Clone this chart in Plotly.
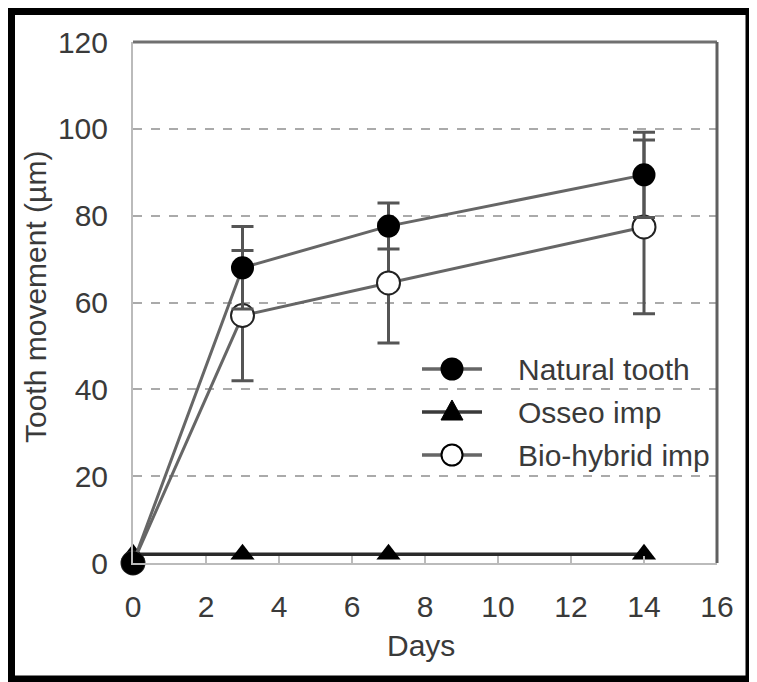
import plotly.graph_objects as go

# ---- data ----
days = [0, 3, 7, 14]
natural = [0, 68, 77.6, 89.4]
natural_err = [0, 9.5, 5.3, 9.8]
osseo = [2, 2, 2, 2]
bio = [0, 57, 64.5, 77.4]
bio_err = [0, 15, 13.8, 20]
x_ticks = [0, 2, 4, 6, 8, 10, 12, 14, 16]
y_ticks = [0, 20, 40, 60, 80, 100, 120]
series_names = ["Natural tooth", "Osseo imp", "Bio-hybrid imp"]

# page has an 8px body margin, so work in window pixels and shift
OFF = 8
W, H = 757 - OFF, 682 - OFF
L, R, T, B = 133 - OFF, 717 - OFF, 42 - OFF, 563 - OFF   # plot area (figure px)
pw, ph = R - L, B - T

def px(wx):
    return (wx - OFF - L) / pw

def py(wy):
    return (B - (wy - OFF)) / ph

FONT = "Liberation Sans, Arial, sans-serif"
TXT = "#3a3a3a"
LINE = "#666666"
ERR = "#555555"

fig = go.Figure()

fig.add_trace(go.Scatter(
    x=days, y=osseo, name=series_names[1], mode="lines+markers",
    line=dict(color="#2a2a2a", width=3.5),
    marker=dict(symbol="triangle-up", size=21, color="black"),
    cliponaxis=False,
))
fig.add_trace(go.Scatter(
    x=days, y=bio, name=series_names[2], mode="lines+markers",
    line=dict(color=LINE, width=3),
    marker=dict(symbol="circle", size=23, color="white", line=dict(color="#222222", width=2)),
    error_y=dict(type="data", array=bio_err, color=ERR, thickness=3, width=11),
    cliponaxis=False,
))
fig.add_trace(go.Scatter(
    x=days, y=natural, name=series_names[0], mode="lines+markers",
    line=dict(color=LINE, width=3),
    marker=dict(symbol="circle", size=23, color="black"),
    error_y=dict(type="data", array=natural_err, color=ERR, thickness=3, width=11),
    cliponaxis=False,
))

# ---- custom legend (keys drawn as decorations, labels as text) ----
leg_rows = [369, 412, 455]        # window px
leg_x0, leg_x1, leg_mx, leg_tx = 422, 482, 452, 516
r_px = 10.5
shapes = []
annotations = []
for i, (name, wy) in enumerate(zip(series_names, leg_rows)):
    shapes.append(dict(type="line", xref="paper", yref="paper",
                       x0=px(leg_x0), x1=px(leg_x1), y0=py(wy), y1=py(wy),
                       line=dict(color="#3a3a3a" if i == 1 else LINE, width=3.5)))
    if i == 1:
        path = "M {:.5f} {:.5f} L {:.5f} {:.5f} L {:.5f} {:.5f} Z".format(
            px(leg_mx - 11), py(wy + 8), px(leg_mx + 11), py(wy + 8), px(leg_mx), py(wy - 12))
        shapes.append(dict(type="path", xref="paper", yref="paper", path=path,
                           fillcolor="black", line=dict(color="black", width=1)))
    else:
        shapes.append(dict(type="circle", xref="paper", yref="paper",
                           x0=px(leg_mx - r_px), x1=px(leg_mx + r_px),
                           y0=py(wy + r_px), y1=py(wy - r_px),
                           fillcolor="black" if i == 0 else "white",
                           line=dict(color="black", width=2)))
    annotations.append(dict(text=name, xref="paper", yref="paper",
                            x=px(leg_tx), y=py(wy), xanchor="left", yanchor="middle",
                            showarrow=False, font=dict(size=30, color=TXT)))

# frame lines (top, right) and outer black border
shapes += [
    dict(type="line", xref="paper", yref="paper", x0=0, x1=1, y0=1, y1=1,
         line=dict(color="#707070", width=3)),
    dict(type="line", xref="paper", yref="paper", x0=1, x1=1, y0=0, y1=1,
         line=dict(color="#606060", width=3)),
    dict(type="rect", xref="paper", yref="paper",
         x0=px(11.5), x1=px(749), y0=py(679), y1=py(11.5),
         line=dict(color="black", width=7), layer="above"),
]

annotations += [
    dict(text="Days", xref="paper", yref="paper", x=px(421), y=py(645),
         showarrow=False, font=dict(size=30, color=TXT), xanchor="center", yanchor="middle"),
    dict(text="Tooth movement (µm)", xref="paper", yref="paper", x=px(35), y=py(297),
         showarrow=False, textangle=-90, font=dict(size=30, color=TXT),
         xanchor="center", yanchor="middle"),
]

fig.update_layout(
    width=W, height=H,
    margin=dict(l=L, r=W - R, t=T, b=H - B, pad=0),
    paper_bgcolor="white", plot_bgcolor="white",
    font=dict(family=FONT, size=30, color=TXT),
    showlegend=False,
    xaxis=dict(
        range=[0, 16], tickvals=x_ticks, ticktext=[str(v) for v in x_ticks],
        showgrid=False, zeroline=False,
        showline=True, linecolor="#bbbbbb", linewidth=2,
        ticks="inside", ticklen=7, tickcolor="#bbbbbb", tickwidth=1.5,
        ticklabelstandoff=16, tickfont=dict(size=30, color=TXT),
    ),
    yaxis=dict(
        range=[0, 120], tickvals=y_ticks, ticktext=[str(v) for v in y_ticks],
        showgrid=True, gridcolor="#aaaaaa", griddash="dash", gridwidth=1.5,
        zeroline=False,
        showline=True, linecolor="#bbbbbb", linewidth=2,
        ticks="", ticklabelstandoff=17, tickfont=dict(size=30, color=TXT),
    ),
    shapes=shapes,
    annotations=annotations,
)

fig.write_html("out.html")
